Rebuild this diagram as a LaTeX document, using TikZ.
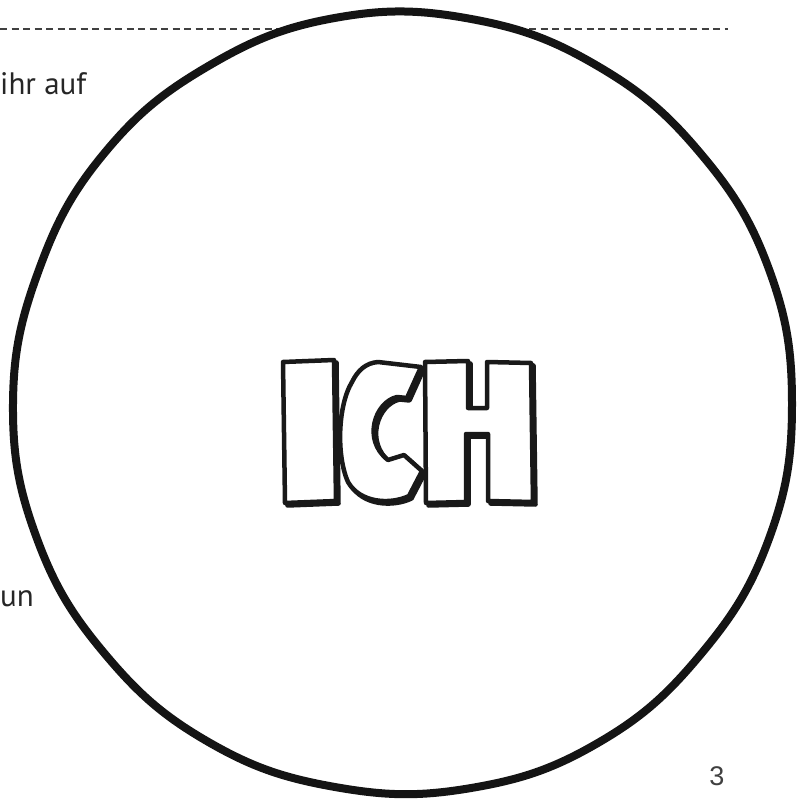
\documentclass[tikz,border=0pt]{standalone}
\usepackage{fontspec}
\setmainfont{PT Sans}
\newfontfamily\pagefont{Liberation Sans}
\begin{document}
\begin{tikzpicture}[x=1pt,y=-1pt,
  dashline/.style={draw=black!75,line width=1.1pt,dash pattern=on 7pt off 4.5pt},
  ring/.style={draw=black!92,line width=8pt,fill=white,line join=round},
  letter/.style={draw=black!90,line width=4.5pt,fill=white,line join=round},
  shadow/.style={draw=black!90,line width=4.5pt,line join=round},
  bodytext/.style={inner sep=0pt,text=black!85,font=\fontsize{31}{36}\selectfont},
  pagenum/.style={inner sep=0pt,text=black!75,font=\pagefont\fontsize{27}{30}\selectfont}]
\useasboundingbox (0,0) rectangle (809,802);
\fill[white] (0,0) rectangle (809,802);
% dashed guide line
\draw[dashline] (0,29) -- (728,29);
% texts on the left
\node[bodytext,anchor=base west] (t1) at (0,95) {ihr auf};
\node[bodytext,anchor=base west] (t2) at (0,606) {un};
% page number
\node[pagenum,anchor=base] (pn) at (717,785) {3};
% hand drawn circle
\begin{scope}[shift={(403,404)}]
\draw[ring] plot[smooth cycle,tension=0.7] coordinates {
 (0:389) (20:390) (40:389) (60:391) (80:390) (100:389) (120:390) (140:389)
 (160:390) (180:390) (200:388) (220:390) (240:390) (260:392) (280:391)
 (300:390) (320:389) (340:390)};
\end{scope}
% ICH letters: shadow
\begin{scope}[shift={(2.5,2.5)}]
\draw[shadow] (283,362) -- (334,360) -- (336,501) -- (285,503) -- cycle;
\draw[shadow] (378,362) -- (421,367) -- (407,398) -- (397,397)
  .. controls (375,402) and (362,440) .. (388,460) -- (404,455) -- (422,471)
  -- (409,496) .. controls (390,505) and (360,503) .. (348,482)
  .. controls (336,455) and (338,405) .. (352,382)
  .. controls (358,370) and (366,363) .. (378,362) -- cycle;
\draw[shadow] (425,362) -- (468,361) -- (468,408) -- (487,408) -- (487,362)
  -- (531,363) -- (533,502) -- (488,501) -- (488,434) -- (466,434)
  -- (466,502) -- (426,503) -- cycle;
\end{scope}
% ICH letters
\draw[letter] (283,362) -- (334,360) -- (336,501) -- (285,503) -- cycle;
\draw[letter] (378,362) -- (421,367) -- (407,398) -- (397,397)
  .. controls (375,402) and (362,440) .. (388,460) -- (404,455) -- (422,471)
  -- (409,496) .. controls (390,505) and (360,503) .. (348,482)
  .. controls (336,455) and (338,405) .. (352,382)
  .. controls (358,370) and (366,363) .. (378,362) -- cycle;
\draw[letter] (425,362) -- (468,361) -- (468,408) -- (487,408) -- (487,362)
  -- (531,363) -- (533,502) -- (488,501) -- (488,434) -- (466,434)
  -- (466,502) -- (426,503) -- cycle;
\end{tikzpicture}
\end{document}
